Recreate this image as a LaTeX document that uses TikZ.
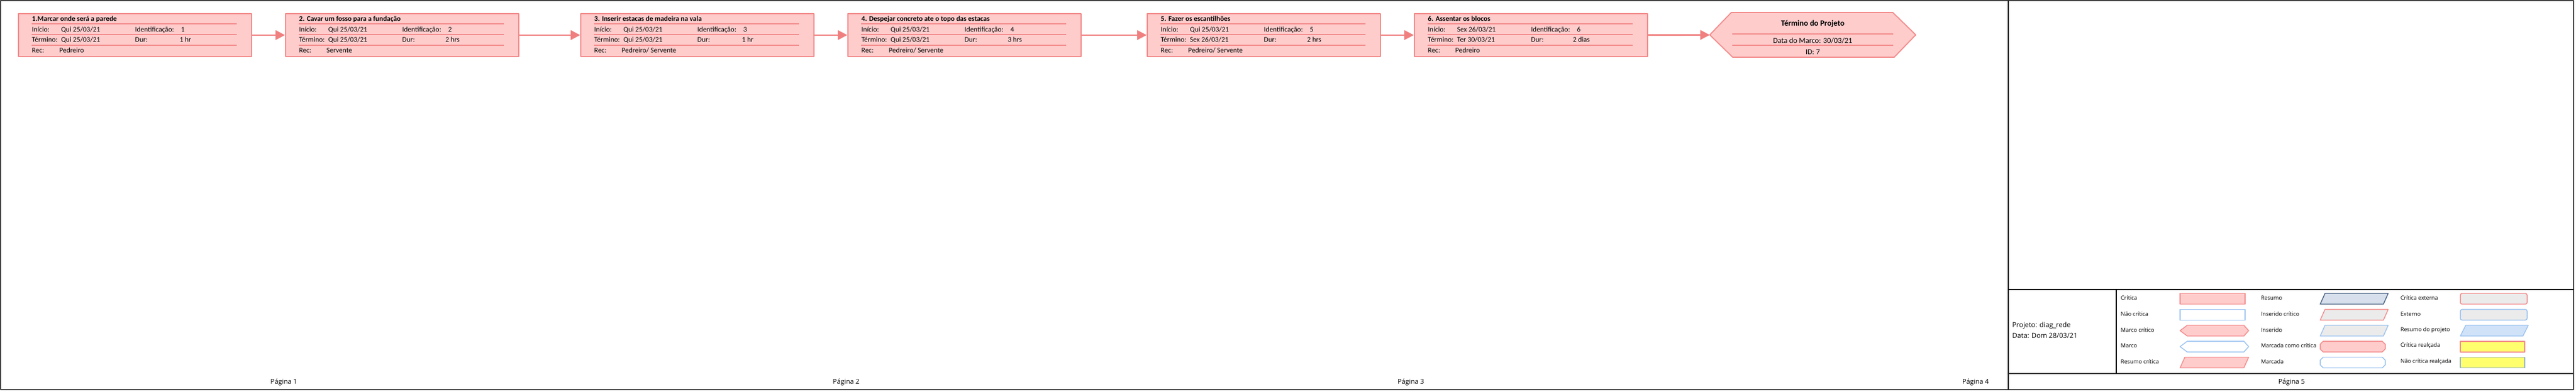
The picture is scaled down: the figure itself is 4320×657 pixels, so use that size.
\documentclass[tikz,border=0pt]{standalone}
\usepackage{fontspec}
\setmainfont{Carlito}
\newfontfamily\legfont{Open Sans}
\usetikzlibrary{arrows.meta}

\definecolor{rosa}{RGB}{255,204,204}
\definecolor{salmao}{RGB}{243,139,139}
\definecolor{setacor}{RGB}{240,128,128}
\definecolor{azul}{RGB}{153,194,240}
\definecolor{cinza}{RGB}{235,235,235}
\definecolor{ardosia}{RGB}{72,96,130}
\definecolor{azulresumo}{RGB}{214,223,235}
\definecolor{azulproj}{RGB}{207,226,248}
\definecolor{amarelo}{RGB}{255,255,110}
\definecolor{realce}{RGB}{150,180,210}
\definecolor{moldura}{RGB}{64,64,64}

\begin{document}
\begin{tikzpicture}[x=0.1mm, y=-0.1mm, line join=round,
    tarefa/.style={draw=salmao, fill=rosa, line width=0.5pt, minimum width=39.1mm,
      minimum height=7.2mm, anchor=north west, inner sep=0pt},
    txt/.style={anchor=west, inner sep=0pt, text height=2.4pt, text depth=0.7pt,
      font=\fontsize{3.4pt}{4pt}\selectfont},
    tit/.style={txt, font=\fontsize{3.4pt}{4pt}\selectfont\bfseries},
    sep/.style={draw=salmao, line width=0.3pt},
    seta/.style={draw=setacor, line width=0.75pt, -{Triangle[length=1.6mm, width=1.6mm]}},
    leg/.style={anchor=west, inner sep=0pt, font=\legfont\fontsize{2.65pt}{3.2pt}\selectfont},
    pag/.style={inner sep=0pt, font=\legfont\fontsize{3.2pt}{4pt}\selectfont},
    borda/.style={draw=moldura, line width=0.2mm}]

    \useasboundingbox (0,0) rectangle (4320,657);

    % Moldura das paginas
    \draw[borda] (1,1) rectangle (4316,654);
    \draw[black, line width=0.15mm] (3368,1) -- (3368,654);
    \draw[black, line width=0.15mm] (3368,486) -- (4316,486); % topo da legenda
    \draw[borda] (3368,627) -- (4316,627); % base da legenda
    \draw[black, line width=0.15mm] (3549,486) -- (3549,627);

    % Tarefas do caminho critico
    \foreach \x/\i/\tit/\ini/\fim/\dur/\rec in {
        30/1/{1.Marcar onde será a parede}/{Qui 25/03/21}/{Qui 25/03/21}/{1 hr}/{Pedreiro},
        478/2/{2. Cavar um fosso para a fundação}/{Qui 25/03/21}/{Qui 25/03/21}/{2 hrs}/{Servente},
        973/3/{3. Inserir estacas de madeira na vala}/{Qui 25/03/21}/{Qui 25/03/21}/{1 hr}/{Pedreiro/ Servente},
        1421/4/{4. Despejar concreto ate o topo das estacas}/{Qui 25/03/21}/{Qui 25/03/21}/{3 hrs}/{Pedreiro/ Servente},
        1923/5/{5. Fazer os escantilhões}/{Qui 25/03/21}/{Sex 26/03/21}/{2 hrs}/{Pedreiro/ Servente},
        2371/6/{6. Assentar os blocos}/{Sex 26/03/21}/{Ter 30/03/21}/{2 dias}/{Pedreiro}}
    {
        \node[tarefa] (t\i) at (\x,22) {};
        \node[tit] (t\i-tit) at (\x+23,33) {\tit};
        \draw[sep] (\x+23,40) -- (\x+367,40) (\x+23,58) -- (\x+367,58) (\x+23,76) -- (\x+367,76);
        \node[txt] (t\i-ini) at (\x+23,51) {Início:};
        \node[txt] (t\i-dini) at (\x+72,51) {\ini};
        \node[txt] (t\i-id) at (\x+196,51) {Identificação:};
        \node[txt] (t\i-nid) at (\x+273,51) {\i};
        \node[txt] (t\i-fim) at (\x+23,68) {Término:};
        \node[txt] (t\i-dfim) at (\x+72,68) {\fim};
        \node[txt] (t\i-dur) at (\x+196,68) {Dur:};
        \node[txt, anchor=center] (t\i-ndur) at (\x+281,68) {\dur};
        \node[txt] (t\i-rec) at (\x+23,86) {Rec:};
        \node[txt] (t\i-nrec) at (\x+69,86) {\rec};
    }

    % Marco final (hexagono)
    \node[minimum width=34.4mm, minimum height=7.5mm, inner sep=0pt] (m7) at (3040,58.5) {};
    \draw[draw=salmao, fill=rosa, line width=0.5pt] (m7.west) -- ++(36,-37.5) -- ++(271,0)
        -- (m7.east) -- ++(-36,37.5) -- ++(-271,0) -- cycle;
    \node[inner sep=0pt, font=\fontsize{3.8pt}{4.5pt}\selectfont\bfseries] (m7-tit) at (3040,40) {Término do Projeto};
    \draw[salmao, line width=0.6pt] (2905,57) -- (3175,57);
    \node[inner sep=0pt, font=\fontsize{3.64pt}{4.3pt}\selectfont] (m7-data) at (3040,68) {Data do Marco: 30/03/21};
    \draw[salmao, line width=0.3pt] (2905,76) -- (3175,76);
    \node[inner sep=0pt, font=\fontsize{3.64pt}{4.3pt}\selectfont] (m7-id) at (3040,87) {ID: 7};

    % Ligacoes
    \draw[seta] (t1) -- (t2);
    \draw[seta] (t2) -- (t3);
    \draw[seta] (t3) -- (t4);
    \draw[seta] (t4) -- (t5);
    \draw[seta] (t5) -- (t6);
    \draw[seta] (t6) -- (m7);

    % Numeros de pagina
    \node[pag] (p1) at (476,642) {Página 1};
    \node[pag] (p2) at (1419,642) {Página 2};
    \node[pag] (p3) at (2366,642) {Página 3};
    \node[pag] (p4) at (3313,642) {Página 4};
    \node[pag] (p5) at (3843,642) {Página 5};

    % Dados do projeto (segunda linha cortada)
    \begin{scope}
        \clip (3370,487) rectangle (3548,567);
        \node[leg, font=\legfont\fontsize{3.27pt}{4pt}\selectfont] (proj) at (3374,547) {Projeto: diag\_rede};
        \node[leg, font=\legfont\fontsize{3.27pt}{4pt}\selectfont] (data) at (3374,563) {Data: Dom 28/03/21};
    \end{scope}

    % Legenda: textos
    \node[leg] (l1) at (3556,500) {Crítica};
    \node[leg] (l2) at (3556,527) {Não crítica};
    \node[leg] (l3) at (3556,554) {Marco crítico};
    \node[leg] (l4) at (3556,580) {Marco};
    \node[leg] (l5) at (3556,607) {Resumo crítica};
    \node[leg] (l6) at (3791,500) {Resumo};
    \node[leg] (l7) at (3791,527) {Inserido crítico};
    \node[leg] (l8) at (3791,554) {Inserido};
    \node[leg] (l9) at (3791,580) {Marcada como crítica};
    \node[leg] (l10) at (3791,607) {Marcada};
    \node[leg] (l11) at (4025,500) {Crítica externa};
    \node[leg] (l12) at (4025,527) {Externo};
    \node[leg] (l13) at (4025,554) {Resumo do projeto};
    \node[leg] (l14) at (4025,580) {Crítica realçada};
    \node[leg] (l15) at (4025,607) {Não crítica realçada};

    % Legenda: amostras, coluna 1
    \draw[salmao, fill=rosa, line width=0.4pt] (3656,492.5) rectangle (3765,510.5);
    \draw[azul, fill=white, line width=0.4pt] (3656,519.3) rectangle (3765,537.3);
    \draw[salmao, fill=rosa, line width=0.4pt] (3656,555) -- (3668,546) -- (3763,546) -- (3771,555) -- (3763,564) -- (3668,564) -- cycle;
    \draw[azul, fill=white, line width=0.4pt] (3656,581.8) -- (3668,572.8) -- (3763,572.8) -- (3771,581.8) -- (3763,590.8) -- (3668,590.8) -- cycle;
    \draw[salmao, fill=rosa, line width=0.4pt] (3656,617.5) -- (3664,599.5) -- (3771,599.5) -- (3763,617.5) -- cycle;

    % Legenda: amostras, coluna 2
    \draw[ardosia, fill=azulresumo, line width=0.4pt] (3891,510.5) -- (3899,492.5) -- (4005,492.5) -- (3997,510.5) -- cycle;
    \draw[salmao, fill=cinza, line width=0.4pt] (3891,537.3) -- (3899,519.3) -- (4005,519.3) -- (3997,537.3) -- cycle;
    \draw[azul, fill=cinza, line width=0.4pt] (3891,564) -- (3899,546) -- (4005,546) -- (3997,564) -- cycle;
    \draw[salmao, fill=rosa, line width=0.4pt] (3896,572.8) -- (3995,572.8) -- (4000,577.8) -- (4000,585.8) -- (3995,590.8) -- (3896,590.8) -- (3891,585.8) -- (3891,577.8) -- cycle;
    \draw[azul, fill=white, line width=0.4pt] (3896,599.5) -- (3995,599.5) -- (4000,604.5) -- (4000,612.5) -- (3995,617.5) -- (3896,617.5) -- (3891,612.5) -- (3891,604.5) -- cycle;

    % Legenda: amostras, coluna 3
    \draw[salmao, fill=cinza, line width=0.4pt, rounded corners=0.3mm] (4126,492.5) rectangle (4238,510.5);
    \draw[azul, fill=cinza, line width=0.4pt, rounded corners=0.3mm] (4126,519.3) rectangle (4238,537.3);
    \draw[azul, fill=azulproj, line width=0.4pt] (4126,564) -- (4135,546) -- (4240,546) -- (4231,564) -- cycle;
    \draw[salmao, fill=amarelo, line width=0.4pt] (4126,572.8) rectangle (4234,590.8);
    \draw[realce, fill=amarelo, line width=0.4pt] (4126,599.5) rectangle (4234,617.5);
\end{tikzpicture}
\end{document}
